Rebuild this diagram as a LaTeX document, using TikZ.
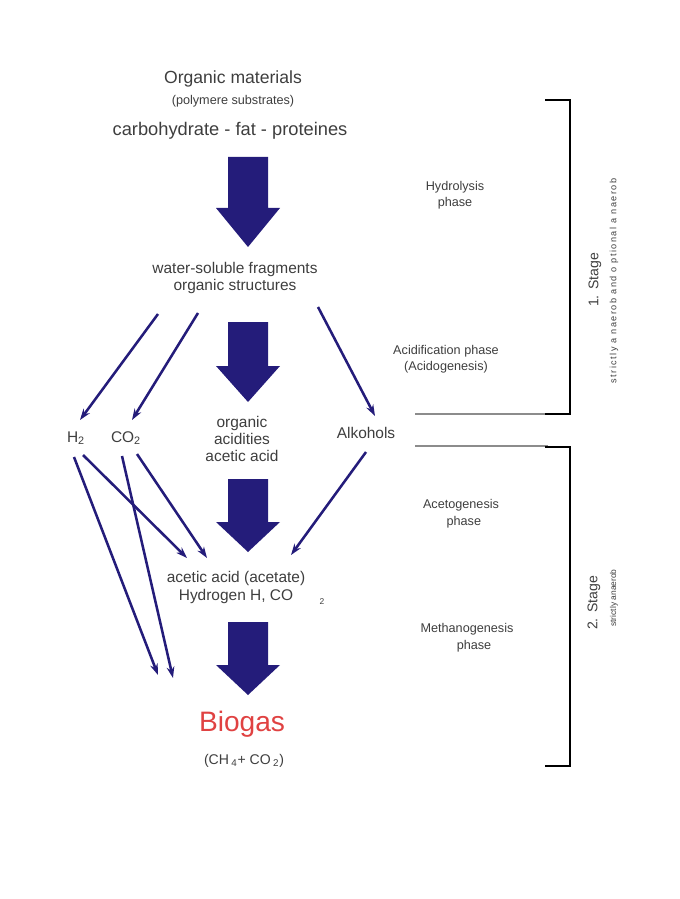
\documentclass[tikz,border=0pt]{standalone}
\usepackage{fontspec}
\setmainfont{Liberation Sans}
\newfontfamily\spacedfont[LetterSpace=16]{Liberation Sans}
\usepackage{xcolor}
\usetikzlibrary{calc}
\usetikzlibrary{arrows.meta}
\definecolor{arrowblue}{RGB}{36,28,122}
\definecolor{biored}{RGB}{224,66,66}
\definecolor{txtgray}{RGB}{62,62,62}
\definecolor{linegray}{RGB}{140,140,140}

\begin{document}
\begin{tikzpicture}[x=0.025cm,y=-0.025cm,
  every node/.style={text=txtgray,inner sep=0pt,align=center},
  thinarrow/.style={arrowblue,line width=1.8pt,-{Stealth[length=8pt,width=5.5pt]}},
  bracketline/.style={black,line width=1.8pt}]
\useasboundingbox (0,0) rectangle (679,899);
\def\ax{248}
\def\hs{20}
\def\hh{32}
\def\fatarrow#1#2#3{\fill[arrowblue] (\ax-\hs,#1) -- (\ax+\hs,#1) -- (\ax+\hs,#2) -- (\ax+\hh,#2) -- (\ax,#3) -- (\ax-\hh,#2) -- (\ax-\hs,#2) -- cycle;}

% main column
\node[font=\fontsize{12.5}{14}\selectfont] (org) at (233,79) {Organic materials};
\node[font=\fontsize{9}{10}\selectfont] (poly) at (233,101) {(polymere substrates)};
\node[font=\fontsize{13}{15}\selectfont] (carb) at (230,131) {carbohydrate - fat - proteines};
\node[font=\fontsize{11}{12}\selectfont] (frag) at (235,278) {water-soluble fragments\\organic structures};
\node[font=\fontsize{11}{12}\selectfont] (orgacid) at (242,439) {organic\\acidities\\acetic acid};
\node[font=\fontsize{11}{13}\selectfont] (alk) at (366,433) {Alkohols};
\node[font=\fontsize{11}{13}\selectfont] (h2) at (76,438) {H\textsubscript{2}};
\node[font=\fontsize{11}{13}\selectfont] (co2) at (126,438) {CO\textsubscript{2}};
\node[font=\fontsize{11}{12.8}\selectfont] (acet) at (236,587) {acetic acid (acetate)\\Hydrogen H, CO};
\node[font=\fontsize{6}{7}\selectfont] (acsub) at (322,602) {2};
\node[text=biored,font=\fontsize{20}{22}\selectfont] (bio) at (242,724) {Biogas};
\node[font=\fontsize{10}{12}\selectfont] (biomix) at (244,761) {(CH\,\textsubscript{4}+ CO\,\textsubscript{2})};

\fatarrow{157}{208}{247}
\fatarrow{322}{366}{402}
\fatarrow{479}{522}{552}
\fatarrow{622}{665}{695}

% thin arrows
\coordinate (f1) at (158,314);
\coordinate (f2) at (198,313);
\coordinate (f3) at (318,307);
\coordinate (h2in) at (80,420);
\coordinate (co2in) at (132,420);
\coordinate (alkin) at (375,416);
\coordinate (h2a) at (83,455);
\coordinate (h2b) at (74,457);
\coordinate (co2a) at (122,456);
\coordinate (co2b) at (137,454);
\coordinate (alkout) at (366,452);
\coordinate (acA) at (187,558);
\coordinate (acB) at (207,558);
\coordinate (acC) at (291,555);
\coordinate (bioA) at (158,675);
\coordinate (bioB) at (173,678);
\draw[thinarrow] (f1) -- (h2in);
\draw[thinarrow] (f2) -- (co2in);
\draw[thinarrow] (f3) -- (alkin);
\draw[thinarrow] (h2a) -- (acA);
\draw[thinarrow] (h2b) -- (bioA);
\draw[thinarrow] (co2a) -- (bioB);
\draw[thinarrow] (co2b) -- (acB);
\draw[thinarrow] (alkout) -- (acC);

% phases
\node[font=\fontsize{9}{11.4}\selectfont] (hydro) at (455,195) {Hydrolysis\\phase};
\node[font=\fontsize{9}{11.4}\selectfont] (acidif) at (446,359) {Acidification phase\\(Acidogenesis)};
\node[font=\fontsize{9}{12}\selectfont] (aceto) at (461,514) {Acetogenesis\\\hspace*{4pt}phase};
\node[font=\fontsize{9}{12}\selectfont] (metha) at (467,638) {Methanogenesis\\\hspace*{10pt}phase};

% stages
\draw[linegray,line width=1.4pt] (415,414) -- (548,414);
\draw[linegray,line width=1.4pt] (415,446) -- (548,446);
\draw[bracketline] (545,100) -- (570,100) -- (570,414) -- (545,414);
\draw[bracketline] (545,447) -- (570,447) -- (570,766) -- (545,766);
\node[rotate=90,font=\fontsize{10}{12}\selectfont] (st1) at (595,280) {1. Stage};
\node[rotate=90,font=\fontsize{6.5}{7}\spacedfont] (st1sub) at (614,281) {strictly a naerob and o ptional a naerob};
\node[rotate=90,font=\fontsize{10}{12}\selectfont] (st2) at (594,603) {2. Stage};
\node[rotate=90,font=\fontsize{6}{7}\selectfont] (st2sub) at (614,598) {strictly anaerob};
\end{tikzpicture}
\end{document}
